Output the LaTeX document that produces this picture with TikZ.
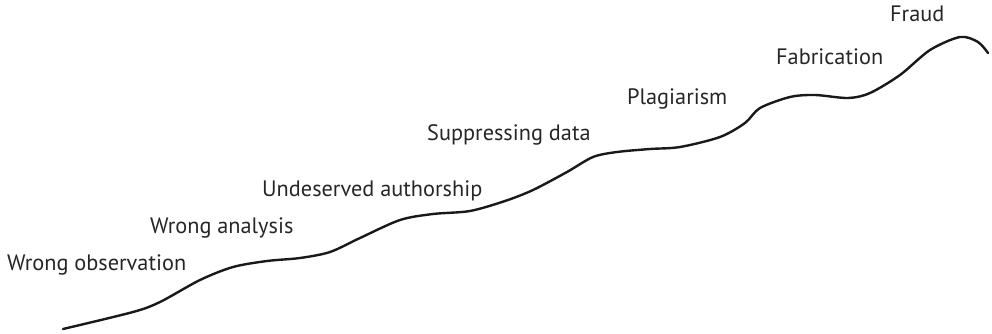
\documentclass[tikz,border=0pt]{standalone}
\usepackage{fontspec}
\setmainfont{PT Sans}
\begin{document}
\begin{tikzpicture}[x=1pt,y=-1pt,
  lbl/.style={anchor=base west,inner sep=0pt,font=\fontsize{22.3}{26}\selectfont,text=black!85},
  curve/.style={line width=2.4pt,line cap=round,black!90}]
\useasboundingbox (0,0) rectangle (992,334);
\node[lbl] (l1) at (7,270) {Wrong observation};
\node[lbl] (l2) at (150,233) {Wrong analysis};
\node[lbl] (l3) at (262,196) {Undeserved authorship};
\node[lbl] (l4) at (427,140) {Suppressing data};
\node[lbl] (l5) at (627,105) {Plagiarism};
\node[lbl] (l6) at (776,65) {Fabrication};
\node[lbl] (l7) at (890,22) {Fraud};
\draw[curve] plot[smooth,tension=0.5] coordinates {
(63,329) (133,312) (160,302) (200,280) (233,267) (267,261) (300,258) (330,252)
(360,238) (400,220) (433,214) (470,211) (505,201) (533,190) (567,172) (593,157)
(617,152) (650,149) (680,147) (720,137) (745,123) (760,108) (790,97) (815,95)
(848,98) (870,93) (900,75) (930,50) (960,37) (978,42) (988,53)};
\end{tikzpicture}
\end{document}
